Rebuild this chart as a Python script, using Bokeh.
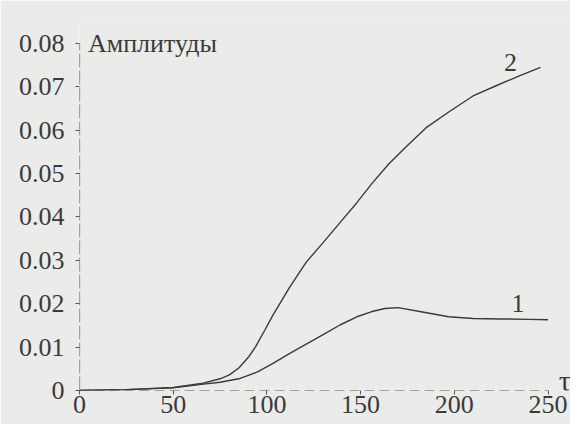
from bokeh.plotting import figure
from bokeh.models import FixedTicker, Range1d, Label
from bokeh.embed import file_html
from bokeh.resources import INLINE

# ---- data ----
tau1 = [0, 25, 50, 65, 75, 85, 95, 103, 112, 121, 130, 139, 148, 156, 163, 170,
        183, 197, 210, 225, 240, 250]
amp1 = [0, 0.0002, 0.0006, 0.0014, 0.0019, 0.0027, 0.0043, 0.0062, 0.0085, 0.0107,
        0.0129, 0.0151, 0.0170, 0.0182, 0.0189, 0.0191, 0.0181, 0.0170, 0.0166,
        0.0165, 0.0164, 0.0163]

tau2 = [0, 25, 50, 65, 75, 80, 85, 90, 94, 99, 103, 112, 121, 130, 139, 148, 156,
        165, 175, 185, 198, 210, 222, 235, 246]
amp2 = [0, 0.0002, 0.0007, 0.0016, 0.0027, 0.0036, 0.0052, 0.0076, 0.0101, 0.0140,
        0.0172, 0.0237, 0.0296, 0.0341, 0.0387, 0.0433, 0.0477, 0.0522, 0.0565,
        0.0606, 0.0645, 0.0679, 0.0702, 0.0726, 0.0745]

x_ticks = [0, 50, 100, 150, 200, 250]
y_ticks = [0, 0.01, 0.02, 0.03, 0.04, 0.05, 0.06, 0.07, 0.08]
y_tick_labels = ["0", "0.01", "0.02", "0.03", "0.04", "0.05", "0.06", "0.07", "0.08"]

y_title = "Амплитуды"
x_title = "τ"
curve_names = ["1", "2"]
curve_label_tau = [234, 230]
curve_label_amp = [0.0201, 0.0757]

# ---- style ----
BG = "#ebebe9"
INK = "#3a3a3a"
AXIS = "#555555"
FONT = "Liberation Serif"
FS = "26px"

p = figure(width=570, height=424, output_backend="svg", toolbar_location=None,
           x_range=Range1d(0, 262), y_range=Range1d(0, 0.0853),
           min_border_left=79, min_border_right=0, min_border_top=20,
           min_border_bottom=34)
p.background_fill_color = BG
p.border_fill_color = BG
p.outline_line_color = None
p.grid.visible = False

p.xaxis.ticker = FixedTicker(ticks=x_ticks, minor_ticks=[])
p.yaxis.ticker = FixedTicker(ticks=y_ticks, minor_ticks=[])
p.yaxis.major_label_overrides = {t: s for t, s in zip(y_ticks, y_tick_labels)}

for ax in (p.xaxis, p.yaxis):
    ax.axis_line_color = None
    ax.major_tick_line_color = AXIS
    ax.major_tick_out = 4
    ax.major_tick_in = 0
    ax.minor_tick_out = 0
    ax.major_label_text_font = FONT
    ax.major_label_text_font_size = FS
    ax.major_label_text_color = INK
p.xaxis.major_label_standoff = 1
p.yaxis.major_label_standoff = 11

# dashed axis lines
p.segment(x0=[0], y0=[0], x1=[max(x_ticks)], y1=[0], line_color=AXIS,
          line_width=1.2, line_dash="10 5")
p.segment(x0=[0], y0=[0], x1=[0], y1=[max(y_ticks)], line_color=AXIS,
          line_width=1.2, line_dash="14 3")

p.line(tau1, amp1, line_color=INK, line_width=1.4)
p.line(tau2, amp2, line_color=INK, line_width=1.4)

for name, tx, ty in zip(curve_names, curve_label_tau, curve_label_amp):
    p.add_layout(Label(x=tx, y=ty, text=name, text_font=FONT, text_font_size=FS,
                       text_color=INK, text_align="center", text_baseline="middle"))

p.add_layout(Label(x=4.5, y=max(y_ticks), text=y_title, text_font=FONT,
                   text_font_size=FS, text_color=INK, text_align="left",
                   text_baseline="middle"))
p.add_layout(Label(x=259, y=0.0024, text=x_title, text_font=FONT,
                   text_font_size="30px", text_color=INK, text_align="center",
                   text_baseline="middle"))

open("out.html", "w").write(file_html(p, INLINE))
